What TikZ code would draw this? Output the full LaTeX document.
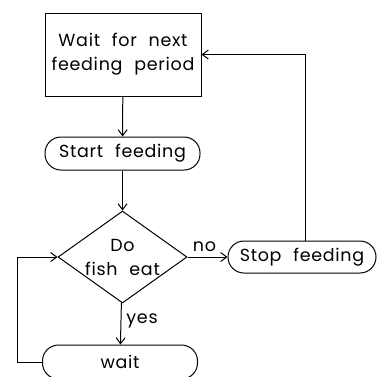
\documentclass[tikz,border=0pt]{standalone}
\usepackage{fontspec}
\setmainfont{Poppins}[LetterSpace=4,WordSpace=2.2]
\usetikzlibrary{shapes.geometric,arrows.meta}
\begin{document}
\begin{tikzpicture}[x=1pt,y=1pt,
  every node/.style={font=\fontsize{17.5}{24}\selectfont},
  base/.style={draw, line width=1pt, inner sep=0pt, align=center},
  procbox/.style={base, rectangle},
  termbox/.style={base, rectangle, rounded corners=16pt},
  decbox/.style={base, diamond, aspect=1.4},
  conn/.style={line width=1pt, -{Straight Barb[length=6pt,width=9pt]}},
  lab/.style={inner sep=0pt}]
\useasboundingbox (0,0) rectangle (377,-376);
\node[procbox, minimum width=156pt, minimum height=83pt] (wait1) at (123,-54.5) {Wait for next\\feeding period};
\node[termbox, minimum width=155pt, minimum height=33pt] (start) at (122.5,-153.5) {Start feeding};
\node[decbox, minimum width=129pt, minimum height=92pt] (dec) at (122.5,-257) {Do\\fish eat};
\node[termbox, minimum width=148pt, minimum height=32pt] (stop) at (302,-257) {Stop feeding};
\node[termbox, minimum width=155pt, minimum height=34pt] (wt) at (120,-362) {wait};
\coordinate (up) at (305,-54.5);
\coordinate (lf) at (17,0);
\draw[conn] (wait1) -- (start);
\draw[conn] (start) -- (dec);
\draw[conn] (dec) -- node[lab, above, xshift=-3pt, yshift=5pt] (no) {no} (stop);
\draw[conn] (stop.north -| up) -- (up) -- (wait1.east);
\draw[conn] (dec) -- node[lab, right, xshift=5pt, yshift=3pt] (yes) {yes} (wt);
\draw[conn] (wt.west) -| (lf |- dec.west) -- (dec.west);
\end{tikzpicture}
\end{document}
